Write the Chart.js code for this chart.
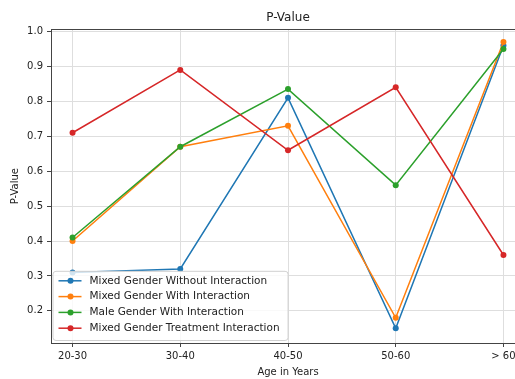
<!DOCTYPE html>
<html><head><meta charset="utf-8">
<script src="https://cdn.jsdelivr.net/npm/chart.js@4/dist/chart.umd.min.js"></script>
<style>
html,body{margin:0;padding:0;overflow:hidden;background:#fff;width:515px;height:379px}
#wrap{position:absolute;left:0;top:0;width:576px;height:379px}
</style>
</head><body><div id="wrap"><canvas id="c" width="576" height="379"></canvas></div>
<script>
const categories = ['20-30', '30-40', '40-50', '50-60', '> 60'];
const seriesNames = ['Mixed Gender Without Interaction', 'Mixed Gender With Interaction', 'Male Gender With Interaction', 'Mixed Gender Treatment Interaction'];
const mixedWithout = [0.31, 0.32, 0.81, 0.15, 0.96];
const mixedWith = [0.40, 0.67, 0.73, 0.18, 0.97];
const maleWith = [0.41, 0.67, 0.835, 0.56, 0.95];
const mixedTreatment = [0.71, 0.89, 0.66, 0.84, 0.36];
const yTickValues = [0.2, 0.3, 0.4, 0.5, 0.6, 0.7, 0.8, 0.9, 1.0];
const colors = ['#1f77b4', '#ff7f0e', '#2ca02c', '#d62728'];

const FONT = 'DejaVu Sans';
const allSeries = [mixedWithout, mixedWith, maleWith, mixedTreatment];

const datasets = allSeries.map((vals, i) => ({
  label: seriesNames[i],
  data: vals.map((v, j) => ({x: j, y: v})),
  borderColor: colors[i],
  backgroundColor: colors[i],
  pointBackgroundColor: colors[i],
  pointBorderColor: colors[i],
  borderWidth: 1.5,
  pointRadius: 3,
  pointBorderWidth: 0,
  tension: 0,
  order: allSeries.length - i
}));

const framePlugin = {
  id: 'frame',
  afterDatasetsDraw(chart) {
    const {ctx, chartArea: a} = chart;
    ctx.save();
    ctx.strokeStyle = '#444';
    ctx.lineWidth = 1;
    ctx.beginPath();
    ctx.moveTo(a.left, Math.round(a.top) + 0.5);
    ctx.lineTo(a.right, Math.round(a.top) + 0.5);
    ctx.stroke();
    ctx.restore();
  }
};

const legendPlugin = {
  id: 'innerLegend',
  afterDatasetsDraw(chart) {
    const {ctx, chartArea: a} = chart;
    const ds = chart.data.datasets;
    ctx.save();
    ctx.font = '10.5px "' + FONT + '"';
    const rowH = 15.8;
    let maxW = 0;
    ds.forEach(d => { maxW = Math.max(maxW, ctx.measureText(d.label).width); });
    const x0 = a.left + 1.5, y1 = a.bottom - 3;
    const h = rowH * ds.length + 6;
    const w = 37 + maxW + 8;
    const y0 = y1 - h;
    ctx.fillStyle = 'rgba(255,255,255,0.8)';
    ctx.strokeStyle = '#d0d0d0';
    ctx.lineWidth = 1;
    ctx.beginPath();
    ctx.roundRect(x0 + 0.5, y0 + 0.5, w, h, 3);
    ctx.fill();
    ctx.stroke();
    ds.forEach((d, i) => {
      const cy = y0 + 10 + rowH * i;
      ctx.strokeStyle = d.borderColor;
      ctx.lineWidth = 1.5;
      ctx.beginPath();
      ctx.moveTo(x0 + 6, cy);
      ctx.lineTo(x0 + 29, cy);
      ctx.stroke();
      ctx.fillStyle = d.borderColor;
      ctx.beginPath();
      ctx.arc(x0 + 18, cy, 3, 0, Math.PI * 2);
      ctx.fill();
      ctx.fillStyle = '#222';
      ctx.textBaseline = 'middle';
      ctx.textAlign = 'left';
      ctx.fillText(d.label, x0 + 37, cy);
    });
    ctx.restore();
  }
};

new Chart(document.getElementById('c'), {
  type: 'line',
  data: {datasets},
  plugins: [framePlugin, legendPlugin],
  options: {
    responsive: false,
    animation: false,
    devicePixelRatio: 1,
    layout: {padding: {left: 0, right: 51, top: 0, bottom: 0}},
    plugins: {
      legend: {display: false},
      tooltip: {enabled: false},
      title: {
        display: true,
        fullSize: false,
        text: 'P-Value',
        color: '#222',
        font: {family: FONT, size: 12, weight: 'normal'},
        padding: {top: 11, bottom: 4}
      }
    },
    scales: {
      x: {
        type: 'linear',
        min: -0.2,
        max: 4.2,
        afterBuildTicks(scale) { scale.ticks = categories.map((c, i) => ({value: i})); },
        afterFit(scale) { scale.height = 36; },
        ticks: {
          callback: v => categories[v],
          color: '#222',
          font: {family: FONT, size: 10},
          padding: 3,
          maxRotation: 0,
          autoSkip: false
        },
        grid: {color: '#dedede', tickColor: '#444', tickLength: 4, lineWidth: 1},
        border: {display: true, color: '#444', width: 1},
        title: {
          display: true,
          text: 'Age in Years',
          color: '#222',
          font: {family: FONT, size: 10},
          padding: {top: 0, bottom: 1}
        }
      },
      y: {
        type: 'linear',
        min: 0.108,
        max: 1.006,
        afterBuildTicks(scale) { scale.ticks = yTickValues.map(v => ({value: v})); },
        afterFit(scale) { scale.width = 51; },
        ticks: {
          callback: v => v.toFixed(1),
          color: '#222',
          font: {family: FONT, size: 10},
          padding: 4
        },
        grid: {color: '#dedede', tickColor: '#444', tickLength: 4, lineWidth: 1},
        border: {display: true, color: '#444', width: 1},
        title: {
          display: true,
          text: 'P-Value',
          color: '#222',
          font: {family: FONT, size: 10},
          padding: {top: 9, bottom: 0}
        }
      }
    }
  }
});
</script>
</body></html>
